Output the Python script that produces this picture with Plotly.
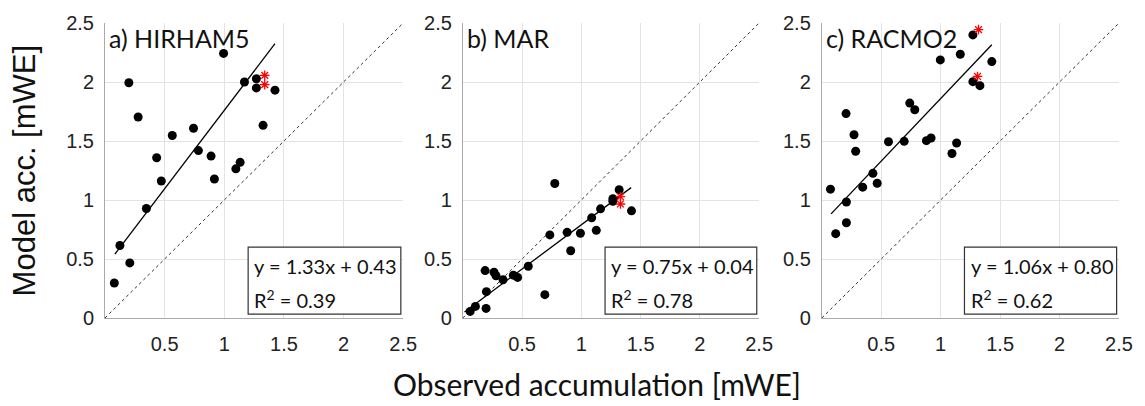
import plotly.graph_objects as go

# ---------------- data ----------------
panel_labels = ["a) HIRHAM5", "b) MAR", "c) RACMO2"]

hirham_obs = [0.078, 0.125, 0.208, 0.200, 0.278, 0.347, 0.433, 0.472, 0.564, 0.742, 0.783,
              0.889, 0.917, 0.994, 1.097, 1.133, 1.169, 1.269, 1.269, 1.325, 1.425]
hirham_mod = [0.297, 0.614, 0.467, 1.994, 1.703, 0.928, 1.358, 1.161, 1.547, 1.608, 1.419,
              1.372, 1.178, 2.242, 1.264, 1.319, 2.000, 2.028, 1.950, 1.633, 1.931]
hirham_star_obs = [1.339, 1.339]
hirham_star_mod = [2.056, 1.978]

mar_obs = [0.062, 0.106, 0.196, 0.199, 0.188, 0.263, 0.280, 0.339, 0.426, 0.462, 0.552, 0.692,
           0.734, 0.776, 0.880, 0.910, 0.992, 1.087, 1.126, 1.162, 1.266, 1.266, 1.319, 1.423]
mar_mod = [0.056, 0.098, 0.081, 0.223, 0.402, 0.388, 0.358, 0.324, 0.363, 0.344, 0.439, 0.198,
           0.704, 1.140, 0.726, 0.570, 0.718, 0.849, 0.743, 0.925, 1.011, 0.989, 1.087, 0.908]
mar_star_obs = [1.330, 1.330]
mar_star_mod = [1.028, 0.966]

racmo_obs = [0.073, 0.117, 0.204, 0.207, 0.207, 0.271, 0.285, 0.344, 0.430, 0.466, 0.561, 0.693,
             0.740, 0.782, 0.880, 0.919, 0.997, 1.095, 1.134, 1.165, 1.271, 1.271, 1.330, 1.430]
racmo_mod = [1.092, 0.715, 1.732, 0.983, 0.807, 1.553, 1.413, 1.109, 1.226, 1.142, 1.494, 1.497,
             1.821, 1.765, 1.503, 1.525, 2.187, 1.394, 1.483, 2.235, 2.399, 2.003, 1.969, 2.173]
racmo_star_obs = [1.318, 1.310]
racmo_star_mod = [2.444, 2.047]

fit_slope = [1.33, 0.75, 1.06]
fit_intercept = [0.43, 0.04, 0.80]
fit_r2 = [0.39, 0.78, 0.62]
fit_xrange = [[0.083, 1.425], [0.014, 1.42], [0.078, 1.43]]

x_tickvals = [0.5, 1, 1.5, 2, 2.5]
x_ticktext = ["0.5", "1", "1.5", "2", "2.5"]
y_tickvals = [0, 0.5, 1, 1.5, 2, 2.5]
y_ticktext = ["0", "0.5", "1", "1.5", "2", "2.5"]
one_to_one = [0, 2.5]

# ---------------- figure ----------------
obs_sets = [hirham_obs, mar_obs, racmo_obs]
mod_sets = [hirham_mod, mar_mod, racmo_mod]
star_obs = [hirham_star_obs, mar_star_obs, racmo_star_obs]
star_mod = [hirham_star_mod, mar_star_mod, racmo_star_mod]

domains = [[0.0, 0.2941], [0.3529, 0.6451], [0.7069, 1.0]]

fig = go.Figure()
TICKFONT = dict(family="Liberation Sans, Arial, sans-serif", size=20, color="#222")
LABFONT = "Lato, 'Open Sans', sans-serif"

for i in range(3):
    xa = "x" if i == 0 else f"x{i+1}"
    ya = "y" if i == 0 else f"y{i+1}"
    # 1:1 dotted line
    fig.add_trace(go.Scatter(x=one_to_one, y=one_to_one, mode="lines",
                             line=dict(color="#333", width=1, dash="dot"),
                             xaxis=xa, yaxis=ya, showlegend=False, hoverinfo="skip"))
    # fit line
    fx = fit_xrange[i]
    fy = [fit_slope[i] * v + fit_intercept[i] for v in fx]
    fig.add_trace(go.Scatter(x=fx, y=fy, mode="lines",
                             line=dict(color="black", width=1.3),
                             xaxis=xa, yaxis=ya, showlegend=False))
    # points
    fig.add_trace(go.Scatter(x=obs_sets[i], y=mod_sets[i], mode="markers",
                             marker=dict(color="black", size=9),
                             xaxis=xa, yaxis=ya, showlegend=False))
    # red stars
    fig.add_trace(go.Scatter(x=star_obs[i], y=star_mod[i], mode="markers",
                             marker=dict(symbol="asterisk-open", size=8, color="red",
                                         line=dict(color="red", width=1.3)),
                             xaxis=xa, yaxis=ya, showlegend=False))

    axkey = "xaxis" if i == 0 else f"xaxis{i+1}"
    aykey = "yaxis" if i == 0 else f"yaxis{i+1}"
    fig.update_layout({
        axkey: dict(domain=domains[i], range=[0, 2.5], tickvals=x_tickvals, ticktext=x_ticktext,
                    showgrid=True, gridcolor="#e3e3e3", gridwidth=1, zeroline=False,
                    showline=True, linecolor="#aaa", linewidth=1, ticks="",
                    tickfont=TICKFONT, anchor=ya, ticklabelstandoff=8),
        aykey: dict(domain=[0, 1], range=[0, 2.5], tickvals=y_tickvals, ticktext=y_ticktext,
                    showgrid=True, gridcolor="#e3e3e3", gridwidth=1, zeroline=False,
                    showline=True, linecolor="#aaa", linewidth=1, ticks="",
                    tickfont=TICKFONT, anchor=xa, ticklabelstandoff=6),
    })
    # stats box
    fig.add_shape(type="rect", xref=xa, yref=ya, x0=1.2, x1=2.48, y0=0.033, y1=0.6,
                  line=dict(color="#333", width=1.2), fillcolor="white", layer="above")
    fig.add_annotation(xref=xa, yref=ya, x=1.235, y=0.44, xanchor="left", yanchor="middle",
                       text=f"y = {fit_slope[i]:.2f}x + {fit_intercept[i]:.2f}",
                       showarrow=False, font=dict(family=LABFONT, size=20, color="#111"))
    fig.add_annotation(xref=xa, yref=ya, x=1.235, y=0.165, xanchor="left", yanchor="middle",
                       text=f"R<sup>2</sup> = {fit_r2[i]:.2f}",
                       showarrow=False, font=dict(family=LABFONT, size=20, color="#111"))
    # panel label
    fig.add_annotation(xref=xa, yref=ya, x=0.02, y=2.37, xanchor="left", yanchor="middle",
                       text=panel_labels[i], showarrow=False,
                       font=dict(family=LABFONT, size=25, color="#111"))

fig.add_annotation(xref="paper", yref="paper", x=0.485, y=-0.225, xanchor="center", yanchor="middle",
                   text="Observed accumulation [mWE]", showarrow=False,
                   font=dict(family=LABFONT, size=30, color="#111"))
fig.add_annotation(xref="paper", yref="paper", x=-0.079, y=0.5, xanchor="center", yanchor="middle",
                   text="Model acc. [mWE]", textangle=-90, showarrow=False,
                   font=dict(family="Liberation Sans, Arial, sans-serif", size=31, color="#111"))

fig.update_layout(width=1145, height=406, margin=dict(l=105, r=20, t=18, b=88),
                  plot_bgcolor="white", paper_bgcolor="white")

fig.write_html("out.html")
